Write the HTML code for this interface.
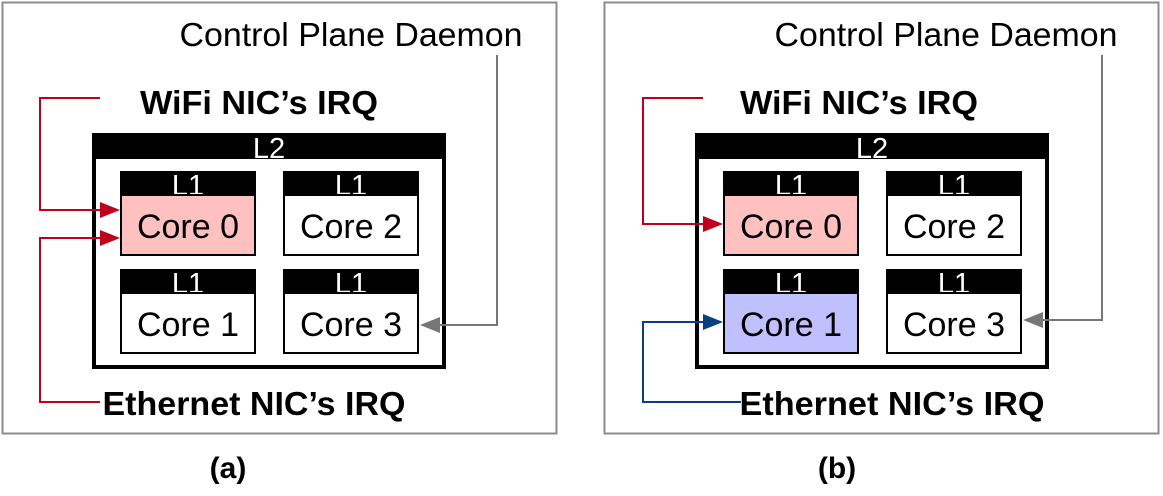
<!DOCTYPE html>
<html><head><meta charset="utf-8"><style>
html,body{margin:0;padding:0;background:#fff}
svg{display:block}
text{font-family:"Liberation Sans",Arial,sans-serif}
</style></head><body>
<svg width="1163" height="496" viewBox="0 0 1163 496" xmlns="http://www.w3.org/2000/svg">
<g id="a">
<rect x="2.5" y="2.5" width="554" height="431" fill="#fff" stroke="#8c8c8c" stroke-width="2"/>
<text x="351" y="46" font-size="33" text-anchor="middle" textLength="343" lengthAdjust="spacingAndGlyphs">Control Plane Daemon</text>
<text x="259" y="114" font-size="33" font-weight="bold" text-anchor="middle" textLength="238" lengthAdjust="spacingAndGlyphs">WiFi NIC’s IRQ</text>
<text x="254" y="415" font-size="33" font-weight="bold" text-anchor="middle" textLength="303" lengthAdjust="spacingAndGlyphs">Ethernet NIC’s IRQ</text>
<rect x="94" y="135" width="350" height="232" fill="#fff" stroke="#000" stroke-width="4"/>
<rect x="92" y="133" width="354" height="26" fill="#000"/>
<text x="269" y="158" font-size="29" fill="#fff" text-anchor="middle">L2</text>
<rect x="120" y="171" width="136" height="24" fill="#000"/><text x="188" y="195" font-size="29" fill="#fff" text-anchor="middle">L1</text>
<rect x="121" y="195" width="134" height="60" fill="#ffc0c0" stroke="#000" stroke-width="2"/><text x="188" y="238" font-size="34" text-anchor="middle">Core 0</text>
<rect x="283" y="171" width="136" height="24" fill="#000"/><text x="351" y="195" font-size="29" fill="#fff" text-anchor="middle">L1</text>
<rect x="284" y="195" width="134" height="60" fill="#fff" stroke="#000" stroke-width="2"/><text x="351" y="238" font-size="34" text-anchor="middle">Core 2</text>
<rect x="120" y="269" width="136" height="24" fill="#000"/><text x="188" y="293" font-size="29" fill="#fff" text-anchor="middle">L1</text>
<rect x="121" y="293" width="134" height="60" fill="#fff" stroke="#000" stroke-width="2"/><text x="188" y="336" font-size="34" text-anchor="middle">Core 1</text>
<rect x="283" y="269" width="136" height="24" fill="#000"/><text x="351" y="293" font-size="29" fill="#fff" text-anchor="middle">L1</text>
<rect x="284" y="293" width="134" height="60" fill="#fff" stroke="#000" stroke-width="2"/><text x="351" y="336" font-size="34" text-anchor="middle">Core 3</text>
<polyline points="100,98 40,98 40,210 102,210" fill="none" stroke="#c0001a" stroke-width="2"/>
<path d="M100,202 L120,210 L100,218z" fill="#c0001a"/>
<polyline points="100,402 40,402 40,238 102,238" fill="none" stroke="#c0001a" stroke-width="2"/>
<path d="M100,230 L120,238 L100,246z" fill="#c0001a"/>
<polyline points="497,55 497,325 438,325" fill="none" stroke="#777" stroke-width="2"/>
<path d="M440,317 L420,325 L440,333z" fill="#777"/>
<text x="228" y="478" font-size="30" font-weight="bold" text-anchor="middle">(a)</text>
</g>
<g transform="translate(603,0)">
<rect x="1.5" y="2.5" width="554" height="431" fill="#fff" stroke="#8c8c8c" stroke-width="2"/>
<text x="343" y="46" font-size="33" text-anchor="middle" textLength="343" lengthAdjust="spacingAndGlyphs">Control Plane Daemon</text>
<text x="256" y="114" font-size="33" font-weight="bold" text-anchor="middle" textLength="238" lengthAdjust="spacingAndGlyphs">WiFi NIC’s IRQ</text>
<text x="289" y="415" font-size="33" font-weight="bold" text-anchor="middle" textLength="305" lengthAdjust="spacingAndGlyphs">Ethernet NIC’s IRQ</text>
<rect x="94" y="135" width="350" height="232" fill="#fff" stroke="#000" stroke-width="4"/>
<rect x="92" y="133" width="354" height="26" fill="#000"/>
<text x="269" y="158" font-size="29" fill="#fff" text-anchor="middle">L2</text>
<rect x="120" y="171" width="136" height="24" fill="#000"/><text x="188" y="195" font-size="29" fill="#fff" text-anchor="middle">L1</text>
<rect x="121" y="195" width="134" height="60" fill="#ffc0c0" stroke="#000" stroke-width="2"/><text x="188" y="238" font-size="34" text-anchor="middle">Core 0</text>
<rect x="283" y="171" width="136" height="24" fill="#000"/><text x="351" y="195" font-size="29" fill="#fff" text-anchor="middle">L1</text>
<rect x="284" y="195" width="134" height="60" fill="#fff" stroke="#000" stroke-width="2"/><text x="351" y="238" font-size="34" text-anchor="middle">Core 2</text>
<rect x="120" y="269" width="136" height="24" fill="#000"/><text x="188" y="293" font-size="29" fill="#fff" text-anchor="middle">L1</text>
<rect x="121" y="293" width="134" height="60" fill="#c0c0ff" stroke="#000" stroke-width="2"/><text x="188" y="336" font-size="34" text-anchor="middle">Core 1</text>
<rect x="283" y="269" width="136" height="24" fill="#000"/><text x="351" y="293" font-size="29" fill="#fff" text-anchor="middle">L1</text>
<rect x="284" y="293" width="134" height="60" fill="#fff" stroke="#000" stroke-width="2"/><text x="351" y="336" font-size="34" text-anchor="middle">Core 3</text>
<polyline points="100,98 40,98 40,224 102,224" fill="none" stroke="#c0001a" stroke-width="2"/>
<path d="M100,216 L120,224 L100,232z" fill="#c0001a"/>
<polyline points="138,402 40,402 40,322 102,322" fill="none" stroke="#0a3f7f" stroke-width="2"/>
<path d="M100,314 L120,322 L100,330z" fill="#0a3f7f"/>
<polyline points="499,55 499,320 438,320" fill="none" stroke="#777" stroke-width="2"/>
<path d="M440,312 L420,320 L440,328z" fill="#777"/>
<text x="234" y="478" font-size="30" font-weight="bold" text-anchor="middle">(b)</text>
</g>
</svg>
</body></html>
